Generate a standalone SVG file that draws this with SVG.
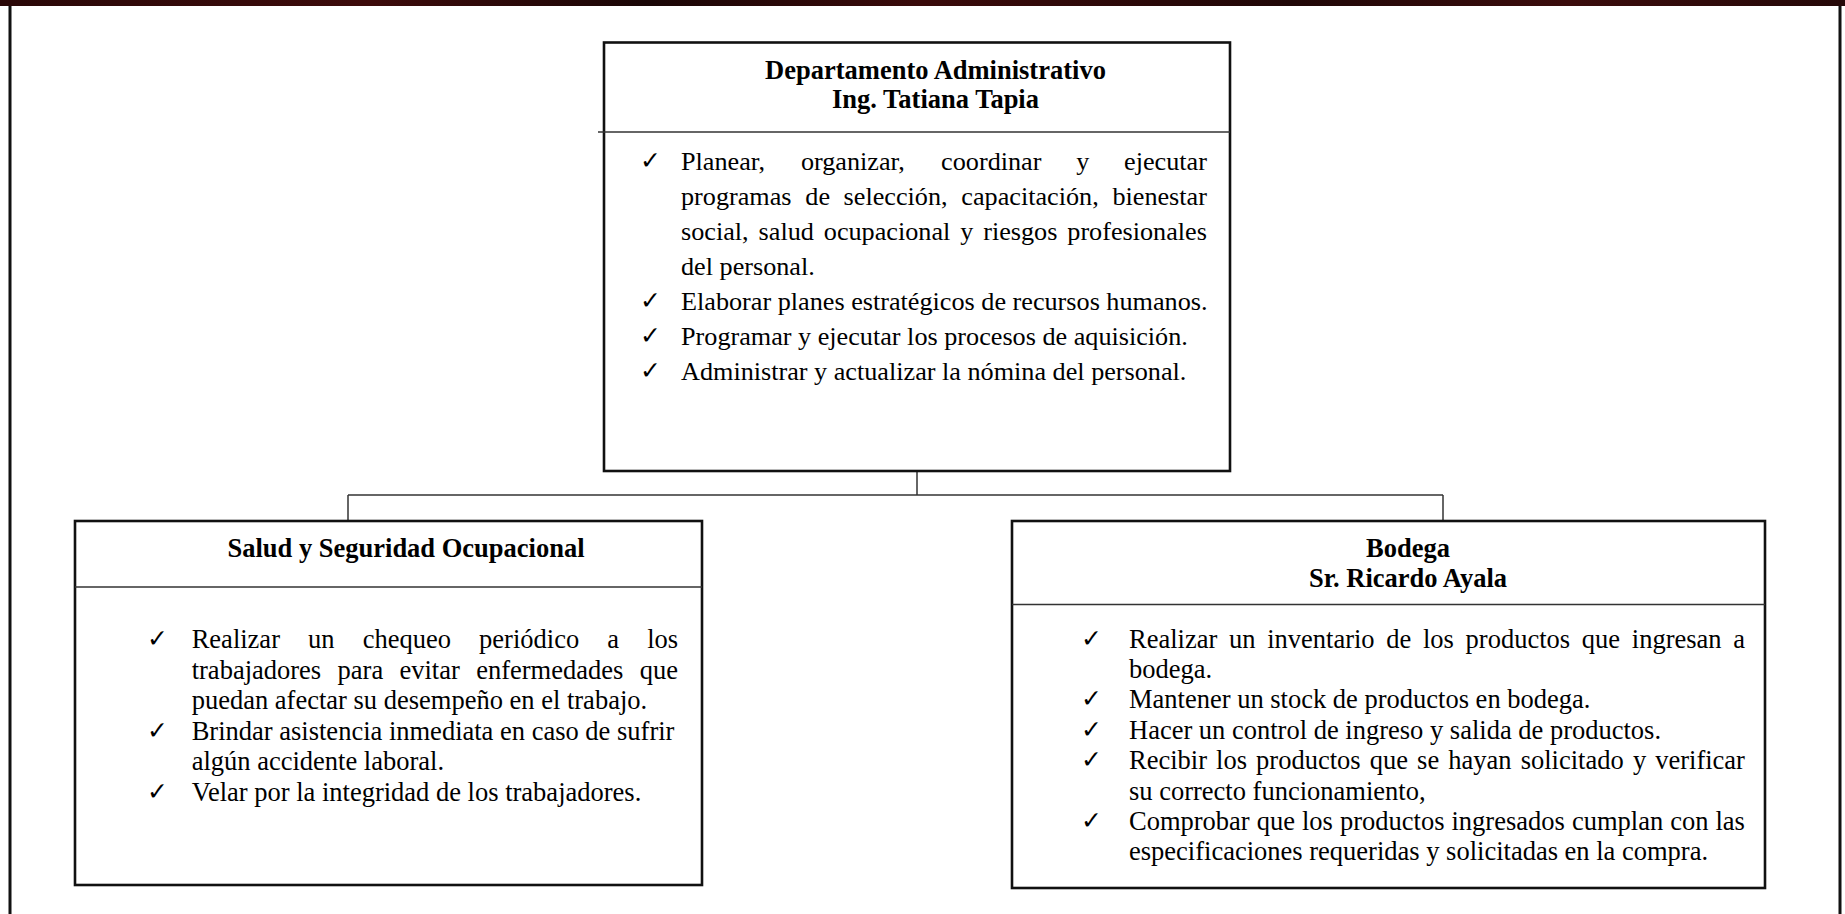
<svg xmlns="http://www.w3.org/2000/svg" width="1845" height="914" viewBox="0 0 1845 914">
<defs>
<linearGradient id="band" x1="0" y1="0" x2="1" y2="0">
<stop offset="0" stop-color="#2a0808"/>
<stop offset="0.2" stop-color="#3d0b0b"/>
<stop offset="0.35" stop-color="#1a0606"/>
<stop offset="0.5" stop-color="#3a0a0a"/>
<stop offset="0.7" stop-color="#200707"/>
<stop offset="0.85" stop-color="#3b0c0c"/>
<stop offset="1" stop-color="#250808"/>
</linearGradient>
</defs>
<style>
.box{fill:#fff;stroke:#111;stroke-width:2.6}
.div{stroke:#333;stroke-width:1.5}
.con{stroke:#333;stroke-width:1.5;fill:none}
.t{font-family:"Liberation Serif","Times New Roman",serif;font-weight:bold;fill:#000;text-anchor:middle}
.b{font-family:"Liberation Serif","Times New Roman",serif;fill:#000}
.m{font-size:26.2px}
.s{font-size:26.5px}
.ck{font-family:"DejaVu Sans",sans-serif;font-size:25px;fill:#000}
</style>
<rect x="0" y="0" width="1845" height="914" fill="#fff"/>
<rect x="0" y="0" width="1845" height="6" fill="url(#band)"/>
<line x1="10" y1="6" x2="10" y2="914" stroke="#111" stroke-width="3"/>
<line x1="1840" y1="6" x2="1840" y2="914" stroke="#111" stroke-width="3"/>

<g id="connectors">
<line class="con" x1="917" y1="471" x2="917" y2="495"/>
<line class="con" x1="348" y1="495" x2="1443" y2="495"/>
<line class="con" x1="348" y1="495" x2="348" y2="521"/>
<line class="con" x1="1443" y1="495" x2="1443" y2="521"/>
</g>

<g id="node-admin">
<rect class="box" x="604" y="42.5" width="626" height="428.5"/>
<line class="div" x1="598" y1="132" x2="1230" y2="132"/>
<text class="t" x="935.5" y="79.3" font-size="26.5">Departamento Administrativo</text>
<text class="t" x="935.5" y="108.3" font-size="26.5">Ing. Tatiana Tapia</text>
<text class="ck" x="640" y="168.5">✓</text>
<text class="b m" y="169.5"><tspan x="681">Planear,</tspan><tspan x="800.9">organizar,</tspan><tspan x="941.1">coordinar</tspan><tspan x="1076.3">y</tspan><tspan x="1124.1">ejecutar</tspan></text>
<text class="b m" y="204.5"><tspan x="681">programas</tspan><tspan x="805.3">de</tspan><tspan x="843.6">selección,</tspan><tspan x="961.3">capacitación,</tspan><tspan x="1112.4">bienestar</tspan></text>
<text class="b m" y="239.5"><tspan x="681">social,</tspan><tspan x="758.6">salud</tspan><tspan x="823.8">ocupacional</tspan><tspan x="960.2">y</tspan><tspan x="983.2">riesgos</tspan><tspan x="1067.3">profesionales</tspan></text>
<text class="b m" x="681" y="274.5">del personal.</text>
<text class="ck" x="640" y="308.5">✓</text>
<text class="b m" x="681" y="309.5">Elaborar planes estratégicos de recursos humanos.</text>
<text class="ck" x="640" y="343.5">✓</text>
<text class="b m" x="681" y="344.5">Programar y ejecutar los procesos de aquisición.</text>
<text class="ck" x="640" y="378.5">✓</text>
<text class="b m" x="681" y="379.5">Administrar y actualizar la nómina del personal.</text>
</g>

<g id="node-salud">
<rect class="box" x="75" y="521" width="627" height="364"/>
<line class="div" x1="75" y1="587" x2="702" y2="587"/>
<text class="t" x="406" y="557.3" font-size="26.5">Salud y Seguridad Ocupacional</text>
<text class="ck" x="147" y="647">✓</text>
<text class="b s" y="648"><tspan x="191.7">Realizar</tspan><tspan x="308.1">un</tspan><tspan x="362.7">chequeo</tspan><tspan x="479.1">periódico</tspan><tspan x="607.3">a</tspan><tspan x="647.2">los</tspan></text>
<text class="b s" y="678.5"><tspan x="191.7">trabajadores</tspan><tspan x="337.6">para</tspan><tspan x="399.5">evitar</tspan><tspan x="476.2">enfermedades</tspan><tspan x="639.7">que</tspan></text>
<text class="b s" x="191.7" y="709">puedan afectar su desempeño en el trabajo.</text>
<text class="ck" x="147" y="738.5">✓</text>
<text class="b s" x="191.7" y="739.5">Brindar asistencia inmediata en caso de sufrir</text>
<text class="b s" x="191.7" y="770">algún accidente laboral.</text>
<text class="ck" x="147" y="799.5">✓</text>
<text class="b s" x="191.7" y="800.5">Velar por la integridad de los trabajadores.</text>
</g>

<g id="node-bodega">
<rect class="box" x="1012" y="521" width="753" height="367"/>
<line class="div" x1="1012" y1="604.5" x2="1765" y2="604.5"/>
<text class="t" x="1408" y="556.7" font-size="26.5">Bodega</text>
<text class="t" x="1408" y="586.7" font-size="26.5">Sr. Ricardo Ayala</text>
<text class="ck" x="1081" y="646.5">✓</text>
<text class="b s" y="647.5"><tspan x="1129">Realizar</tspan><tspan x="1229">un</tspan><tspan x="1267.2">inventario</tspan><tspan x="1386.3">de</tspan><tspan x="1423">los</tspan><tspan x="1465.6">productos</tspan><tspan x="1581.8">que</tspan><tspan x="1631.8">ingresan</tspan><tspan x="1733.2">a</tspan></text>
<text class="b s" x="1129" y="677.9">bodega.</text>
<text class="ck" x="1081" y="707.3">✓</text>
<text class="b s" x="1129" y="708.3">Mantener un stock de productos en bodega.</text>
<text class="ck" x="1081" y="737.7">✓</text>
<text class="b s" x="1129" y="738.7">Hacer un control de ingreso y salida de productos.</text>
<text class="ck" x="1081" y="768.1">✓</text>
<text class="b s" y="769.1"><tspan x="1129">Recibir</tspan><tspan x="1216.1">los</tspan><tspan x="1256.1">productos</tspan><tspan x="1369.7">que</tspan><tspan x="1417.1">se</tspan><tspan x="1448.3">hayan</tspan><tspan x="1520.7">solicitado</tspan><tspan x="1632.9">y</tspan><tspan x="1655.2">verificar</tspan></text>
<text class="b s" x="1129" y="799.5">su correcto funcionamiento,</text>
<text class="ck" x="1081" y="828.9">✓</text>
<text class="b s" y="829.9"><tspan x="1129">Comprobar</tspan><tspan x="1256.7">que</tspan><tspan x="1302">los</tspan><tspan x="1340">productos</tspan><tspan x="1451.5">ingresados</tspan><tspan x="1571.9">cumplan</tspan><tspan x="1670.2">con</tspan><tspan x="1715.5">las</tspan></text>
<text class="b s" x="1129" y="860.3">especificaciones requeridas y solicitadas en la compra.</text>
</g>
</svg>
